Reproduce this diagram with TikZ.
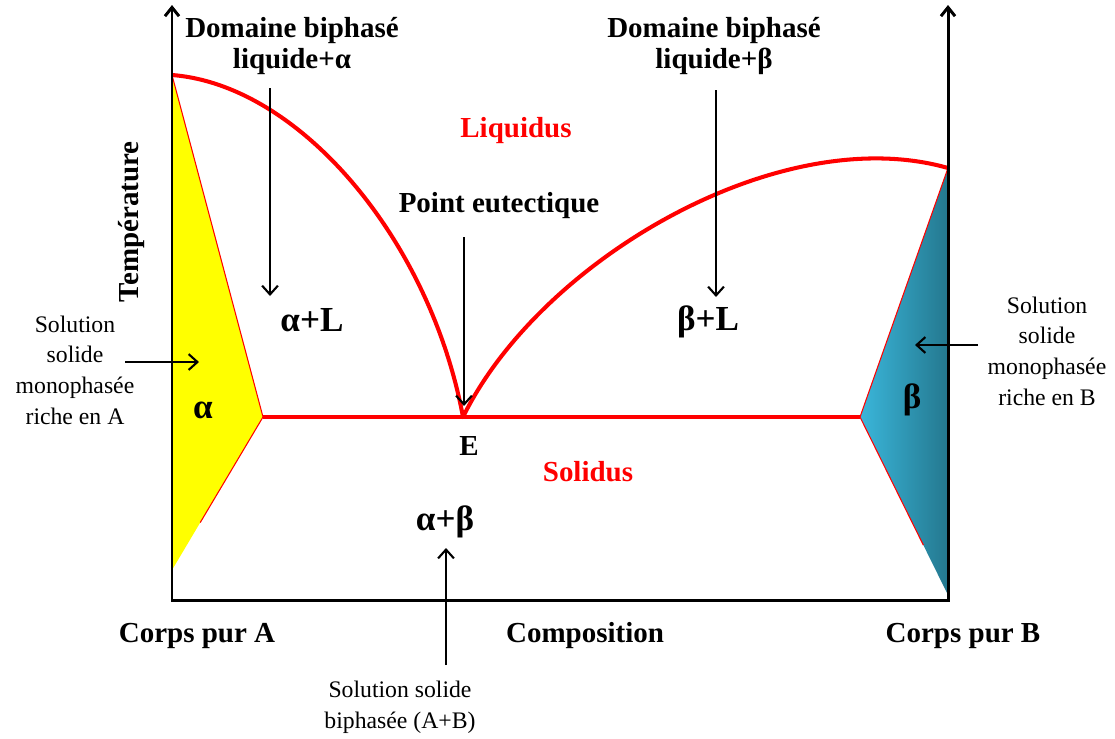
\documentclass[tikz,border=0pt]{standalone}
\usepackage{fontspec}
\setmainfont{Liberation Serif}
\usetikzlibrary{arrows.meta, positioning, calc}
\definecolor{liqred}{RGB}{255,0,0}
\definecolor{alphayellow}{RGB}{255,255,0}
\definecolor{betalight}{RGB}{58,182,218}
\definecolor{betadark}{RGB}{36,120,143}

\begin{document}
\begin{tikzpicture}[x=0.02cm, y=-0.02cm,
  lbl/.style={font=\fontsize{16.5}{18}\selectfont\bfseries, align=center, inner sep=1pt},
  phase/.style={font=\fontsize{20}{22}\selectfont\bfseries, inner sep=1pt},
  note/.style={font=\fontsize{13.5}{17.5}\selectfont, align=center, inner sep=1pt},
  redlbl/.style={lbl, text=liqred},
  ptr/.style={line width=1.2pt, -{Straight Barb[length=5pt,width=9pt]}},
  curve/.style={liqred, line width=2.3pt, line join=round},
]
  \useasboundingbox (0,0) rectangle (1115,738);

  % key points of the diagram
  \coordinate (O) at (172,600);
  \coordinate (Atop) at (172,5);
  \coordinate (Bbot) at (948,600);
  \coordinate (Btop) at (948,5);
  \coordinate (TA) at (172,75);
  \coordinate (TB) at (948,168);
  \coordinate (E) at (463,417);
  \coordinate (Sa) at (263,417);
  \coordinate (Sb) at (860,417);
  \coordinate (Ma) at (172,570);
  \coordinate (Mb) at (948,595);

  % solid solutions
  \fill[alphayellow] (TA) -- (Sa) -- (Ma) -- cycle;
  \draw[liqred, line width=0.6pt] (TA) -- (Sa) -- ($(Sa)!0.69!(Ma)$);
  \shade[left color=betalight, right color=betadark] (TB) -- (Sb) -- (Mb) -- cycle;
  \draw[liqred, line width=0.6pt] (TB) -- (Sb) -- ($(Sb)!0.72!(Mb)$);

  % liquidus and solidus
  \draw[curve] (TA) .. controls (300,85) and (430,240) .. (E)
    .. controls (540,260) and (780,120) .. (TB);
  \draw[curve] (Sa) -- (Sb);

  % axes
  \draw[line width=1.7pt, {Straight Barb[length=5pt,width=8pt]}-{Straight Barb[length=5pt,width=8pt]}]
    (Atop) -- (O) -- (Bbot) -- (Btop);

  % labels
  \node[lbl] (domA) at (292,46) {Domaine biphasé\\liquide+α};
  \node[lbl] (domB) at (714,46) {Domaine biphasé\\liquide+β};
  \node[phase] (aL) at (312,320) {α+L};
  \node[phase] (bL) at (708,322) {β+L};
  \node[redlbl] (liq) at (516,131) {Liquidus};
  \node[lbl] (eut) at (499,206) {Point eutectique};
  \node[lbl] (Elbl) at (469,446) {E};
  \node[redlbl] (sol) at (588,472) {Solidus};
  \node[phase] (ab) at (445,522) {α+β};
  \node[lbl, rotate=90] (temp) at (132,222) {Température};
  \node[phase] (alph) at (203,410) {α};
  \node[phase] (bet) at (912,400) {β};
  \node[note] (noteA) at (75,370) {Solution\\solide\\monophasée\\riche en A};
  \node[note] (noteB) at (1047,351) {Solution\\solide\\monophasée\\riche en B};
  \node[lbl] (corA) at (197,636) {Corps pur A};
  \node[lbl] (comp) at (585,636) {Composition};
  \node[lbl] (corB) at (963,636) {Corps pur B};
  \node[note] (noteAB) at (400,707) {Solution solide\\biphasée (A+B)};

  % pointers
  \coordinate (pA1) at (270,88);   \coordinate (pA2) at (270,296);
  \coordinate (pB1) at (716,90);   \coordinate (pB2) at (716,297);
  \coordinate (pE1) at (464,237);  \coordinate (pE2) at (464,406);
  \coordinate (pS1) at (446,665);  \coordinate (pS2) at (446,548);
  \coordinate (pa1) at (125,362);  \coordinate (pa2) at (199,362);
  \coordinate (pb1) at (978,345);  \coordinate (pb2) at (915,345);
  \draw[ptr] (pA1) -- (pA2);
  \draw[ptr] (pB1) -- (pB2);
  \draw[ptr] (pE1) -- (pE2);
  \draw[ptr] (pS1) -- (pS2);
  \draw[ptr] (pa1) -- (pa2);
  \draw[ptr] (pb1) -- (pb2);
\end{tikzpicture}
\end{document}
